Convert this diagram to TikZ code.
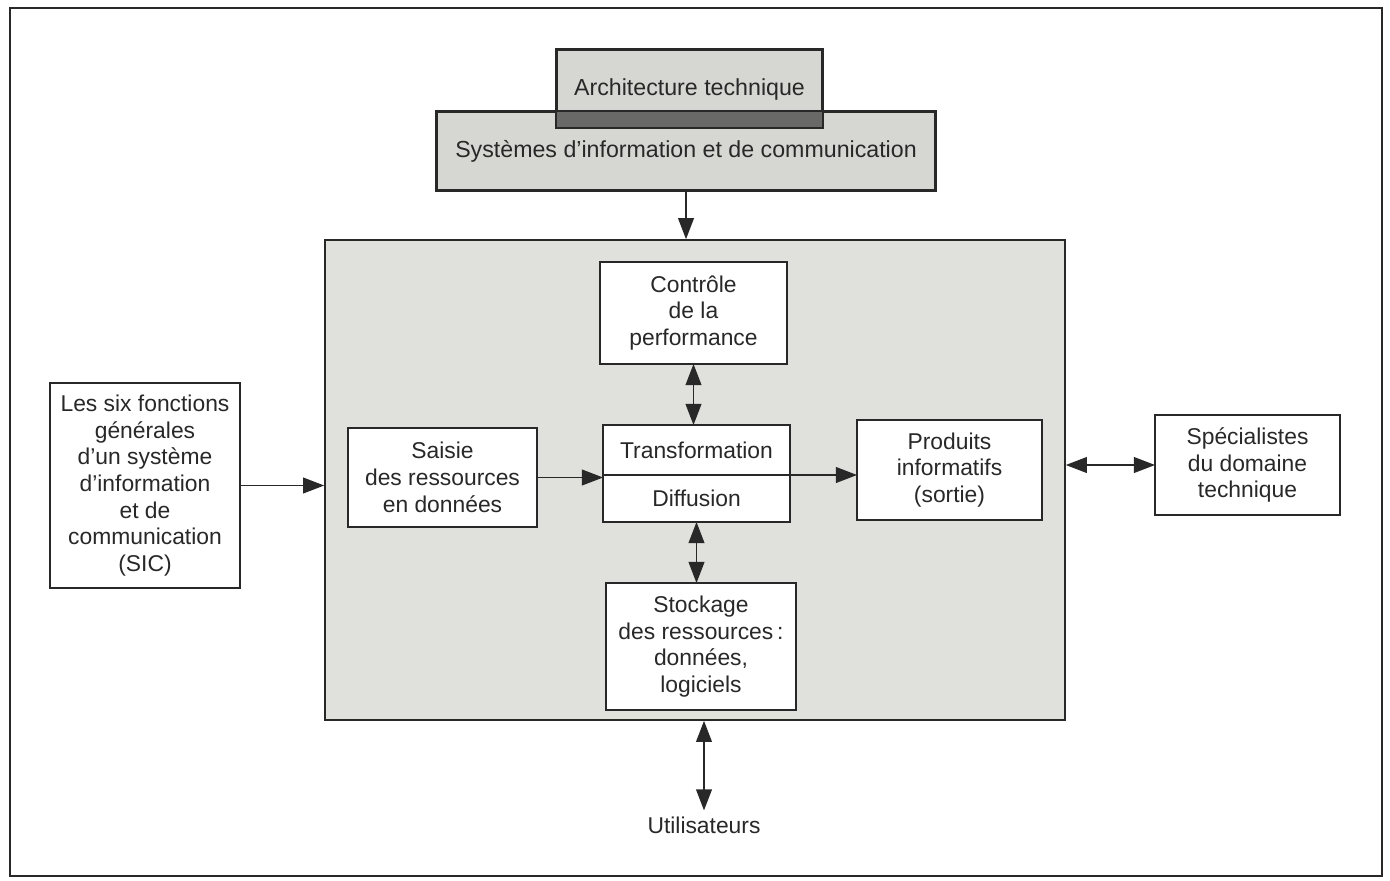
\documentclass[tikz,border=0pt]{standalone}
\usepackage{fontspec}
\setmainfont{Liberation Sans}
\usetikzlibrary{%
    arrows.meta,%
    positioning,%
    calc
    }
\definecolor{ink1}{RGB}{40,40,40}
\definecolor{paper1}{RGB}{224,224,221}
\definecolor{paper2}{RGB}{214,214,210}
\definecolor{band1}{RGB}{105,105,103}
\tikzset{
  frame2/.style={
    rectangle,
    draw=ink1,
    line width=1.2pt,
  },
  zone2/.style={
    rectangle,
    draw=ink1,
    line width=1pt,
    fill=paper1,
  },
  title2/.style={
    rectangle,
    align=center,
    draw=ink1,
    line width=1pt,
    fill=paper2,
    font=\fontsize{13.2}{15.5}\selectfont\color{ink1},
  },
  box2/.style={
    rectangle,
    align=center,
    inner sep=1pt,
    outer sep=0pt,
    draw=ink1,
    line width=1pt,
    fill=white,
    font=\fontsize{13}{15.2}\selectfont\color{ink1},
  },
  label2/.style={
    align=center,
    font=\fontsize{13}{15.2}\selectfont\color{ink1},
  },
  arrow2/.style={
    -{Triangle[length=12pt,width=9pt]},
    draw=ink1,
    fill=ink1,
    line width=0.8pt,
  },
  twoway2/.style={
    {Triangle[length=12pt,width=9pt]}-{Triangle[length=12pt,width=9pt]},
    draw=ink1,
    fill=ink1,
    line width=0.8pt,
  },
}

\begin{document}
\begin{tikzpicture}[x=0.02cm,y=-0.02cm]
\useasboundingbox (0,0) rectangle (1390,880);
\draw[frame2] (10,8) rectangle (1382,876);

\node[title2,minimum width=9.96cm,minimum height=1.56cm] 
  (sys) 
  at (686,151)
  {\raisebox{-6pt}{Systèmes d'information et de communication}};
\node[title2,minimum width=5.3cm,minimum height=1.54cm,text depth=0pt] 
  (arch) 
  at (689.5,88.5)
  {\raisebox{2pt}{Architecture technique}};
\fill[band1] 
  (arch.south west) rectangle (arch.south east |- sys.north);
\draw[ink1,line width=1pt] 
  (arch.south west) rectangle (arch.north east);
\draw[ink1,line width=1pt] 
  (sys.south west) rectangle (sys.north east);

\node[zone2,minimum width=14.8cm,minimum height=9.6cm] 
  (sic) 
  at (695,480)
  {};

\node[box2,minimum width=3.74cm,minimum height=2.04cm] 
  (ctrl) 
  at (693.5,313)
  {Contrôle\\de la\\performance};
\node[box2,minimum width=3.74cm,minimum height=1cm] 
  (trans) 
  at (696.5,450)
  {Transformation};
\node[box2,minimum width=3.74cm,minimum height=0.94cm,below=0pt of trans] 
  (diff) 
  {Diffusion};
\node[box2,minimum width=3.78cm,minimum height=1.98cm] 
  (saisie) 
  at (442.5,477.5)
  {Saisie\\des ressources\\en données};
\node[box2,minimum width=3.7cm,minimum height=2cm] 
  (prod) 
  at (949.5,470)
  {Produits\\informatifs\\(sortie)};
\node[box2,minimum width=3.8cm,minimum height=2.54cm] 
  (stock) 
  at (701,646.5)
  {Stockage\\des ressources\,:\\données,\\logiciels};

\node[box2,minimum width=3.8cm,minimum height=4.1cm] 
  (six) 
  at (145,485.5)
  {Les six fonctions\\générales\\d'un système\\d'information\\et de\\communication\\(SIC)};
\node[box2,minimum width=3.7cm,minimum height=2cm] 
  (spec) 
  at (1247.5,465)
  {Spécialistes\\du domaine\\technique};
\node[label2] 
  (users) 
  at (704,825)
  {Utilisateurs};

\begin{scope}[arrow2]
\draw
  (sys.south) -- (sys.south |- sic.north);
\draw
  (six.east) -- (six.east -| sic.west);
\draw
  (saisie.east) -- (saisie.east -| trans.west);
\draw
  (diff.north east) -- (diff.north east -| prod.west);
\end{scope}

\begin{scope}[twoway2]
\draw
  (ctrl.south) -- (ctrl.south |- trans.north);
\draw
  (diff.south) -- (diff.south |- stock.north);
\draw
  (spec.west -| sic.east) -- (spec.west);
\draw
  (users.north |- sic.south) -- (users.north);
\end{scope}
\end{tikzpicture}
\end{document}
